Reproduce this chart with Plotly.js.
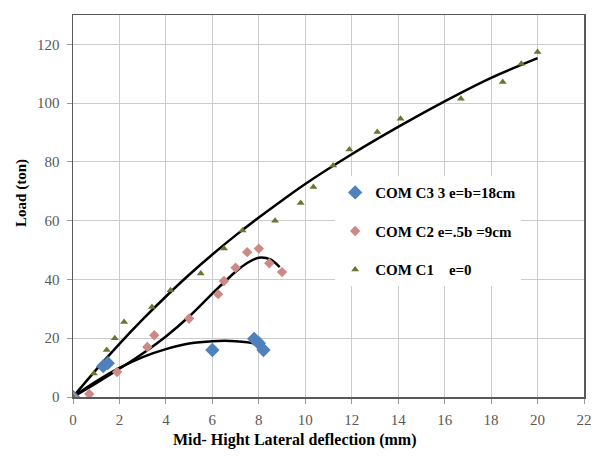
<!DOCTYPE html>
<html>
<head>
<meta charset="utf-8">
<script src="https://cdn.plot.ly/plotly-3.0.1.min.js"></script>
<style>
  html, body { margin: 0; padding: 0; background: #ffffff; }
  #chart { width: 600px; height: 456px; }
</style>
</head>
<body>
<div id="chart"></div>
<script>
// Measured test points: mid-height lateral deflection (mm) vs load (ton)
const c3X = [0, 1.3, 1.5, 6.0, 7.8, 8.0, 8.2];
const c3Y = [0, 10.5, 11.5, 16, 19.8, 18.3, 16];

const c2X = [0, 0.7, 1.9, 3.2, 3.5, 5.0, 6.25, 6.5, 7.0, 7.5, 8.0, 8.45, 9.0];
const c2Y = [0, 1, 8.5, 17, 21, 26.7, 35, 39.5, 44, 49.3, 50.5, 45.5, 42.5];

const c1X = [0, 0.9, 1.45, 1.8, 2.2, 3.4, 4.2, 5.5, 6.5, 7.3, 8.7, 9.8, 10.35, 11.2, 11.9, 13.1, 14.1, 16.7, 18.5, 19.3, 20.0];
const c1Y = [0, 8, 16, 20, 25.5, 30.6, 36.3, 42, 50.5, 56.7, 60, 66, 71.5, 78.8, 84.2, 90.2, 94.7, 101.5, 107.2, 113.4, 117.4];

// Trend curves drawn through each series
const t1X = [0, 1, 2, 3, 4, 5, 6, 7, 8, 9, 10, 12, 14, 16, 18, 20];
const t1Y = [0, 9.3, 18.1, 26.4, 34.2, 41.6, 48.5, 55.0, 61.1, 66.9, 72.5, 82.6, 91.9, 100.6, 108.6, 115.3];
const t2X = [0, 1, 2, 3, 4, 5, 6, 7, 7.5, 8, 8.5, 8.9];
const t2Y = [0, 4.7, 9.6, 14.8, 20.6, 27.4, 35.2, 42.6, 45.6, 47.4, 46.8, 44.2];
const t3X = [0, 1, 2, 3, 4, 5, 6, 7, 8, 8.3];
const t3Y = [0, 5.3, 9.9, 13.6, 16.3, 18.2, 19.0, 19.0, 17.9, 16.8];

const seriesNames = ['COM C3 3 e=b=18cm', 'COM C2 e=.5b =9cm', 'COM C1\u00a0\u00a0\u00a0\u00a0e=0'];
const xTicks = [0, 2, 4, 6, 8, 10, 12, 14, 16, 18, 20, 22];
const yTicks = [0, 20, 40, 60, 80, 100, 120];

const serif = 'Liberation Serif';

function trend(x, y) {
  return {
    x: x, y: y, mode: 'lines', type: 'scatter',
    line: { color: '#000000', width: 2.5, shape: 'spline', smoothing: 0.8 },
    showlegend: false, hoverinfo: 'skip'
  };
}

const traces = [
  trend(t1X, t1Y),
  trend(t2X, t2Y),
  trend(t3X, t3Y),
  {
    x: c3X, y: c3Y, name: seriesNames[0], mode: 'markers', type: 'scatter',
    legendgroup: 'g3', legendrank: 1,
    marker: { symbol: 'diamond', size: 11, color: '#4f81bd' }
  },
  {
    x: c2X, y: c2Y, name: seriesNames[1], mode: 'markers', type: 'scatter',
    legendgroup: 'g2', legendrank: 2,
    marker: { symbol: 'diamond', size: 8, color: '#cd8985' }
  },
  {
    x: c1X, y: c1Y, name: seriesNames[2], mode: 'markers', type: 'scatter',
    legendgroup: 'g1', legendrank: 3,
    marker: { symbol: 'triangle-up', size: 7, color: '#66782f' }
  }
];

function axisBase() {
  return {
    showgrid: true, gridcolor: '#cccccc', gridwidth: 1,
    zeroline: false,
    showline: true, mirror: true, linecolor: '#595959', linewidth: 1.5,
    ticks: 'outside', ticklen: 5, tickcolor: '#9a9a9a',
    tickfont: { family: serif, size: 15, color: '#595959' },
    fixedrange: true
  };
}

const layout = {
  width: 600, height: 456,
  margin: { l: 73, r: 16, t: 15, b: 59 },
  paper_bgcolor: '#ffffff', plot_bgcolor: '#ffffff',
  font: { family: serif },
  xaxis: Object.assign(axisBase(), {
    range: [0, 22], tickvals: xTicks, ticklabelstandoff: 3
  }),
  yaxis: Object.assign(axisBase(), {
    range: [0, 130], tickvals: yTicks, ticklabelstandoff: 4
  }),
  legend: {
    x: 0.513, y: 0.578, xanchor: 'left', yanchor: 'top',
    bgcolor: '#ffffff', borderwidth: 0,
    traceorder: 'grouped', tracegroupgap: 16,
    font: { family: serif, size: 15, color: '#000000', weight: 'bold' }
  },
  annotations: [
    {
      text: 'Mid- Hight Lateral deflection (mm)',
      xref: 'paper', yref: 'paper', x: 0.434, y: -0.113,
      xanchor: 'center', yanchor: 'middle', showarrow: false,
      font: { family: serif, size: 16, color: '#000000', weight: 'bold' }
    },
    {
      text: 'Load (ton)', textangle: -90,
      xref: 'paper', yref: 'paper', x: -0.102, y: 0.534,
      xanchor: 'center', yanchor: 'middle', showarrow: false,
      font: { family: serif, size: 15, color: '#000000', weight: 'bold' }
    }
  ],
  showlegend: true
};

Plotly.newPlot('chart', traces, layout, { staticPlot: true, displayModeBar: false });
</script>
</body>
</html>
